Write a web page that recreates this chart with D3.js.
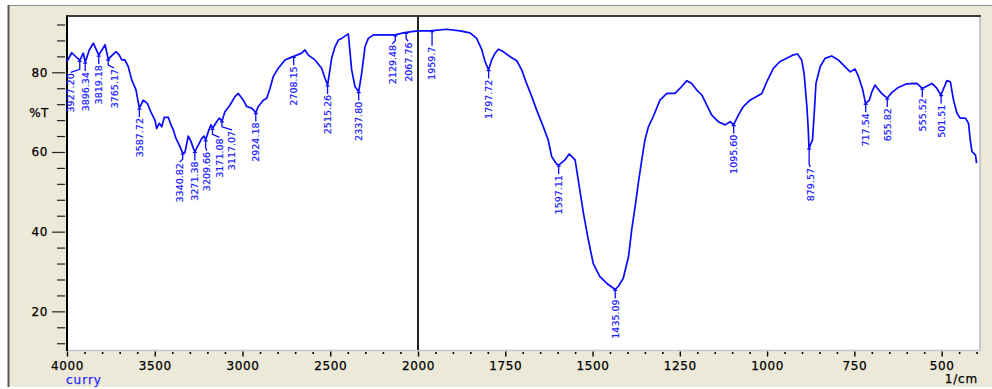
<!DOCTYPE html>
<html>
<head>
<meta charset="utf-8">
<script src="https://cdn.jsdelivr.net/npm/d3@7"></script>
<style>
  html, body { margin: 0; padding: 0; background: #fff; }
  svg { display: block; }
</style>
</head>
<body>
<svg width="992" height="389"></svg>
<script>
(function(){
  'use strict';

  var WIDTH = 992;
  var HEIGHT = 389;

  // spectrum (1/cm, %T)
  var wavenumbers = [
    4000, 3973, 3949, 3927, 3907, 3896, 3873, 3850, 3819, 3783, 3765, 3721, 3702, 3688, 3670,
    3651, 3631, 3607, 3588, 3565, 3542, 3523, 3499, 3489, 3474, 3460, 3446, 3423, 3409, 3394,
    3379, 3360, 3341, 3328, 3309, 3293, 3280, 3271, 3252, 3232, 3219, 3210, 3195, 3180, 3171,
    3147, 3132, 3117, 3100, 3071, 3043, 3024, 2995, 2976, 2948, 2924, 2910, 2881, 2862, 2843,
    2825, 2796, 2758, 2720, 2708, 2691, 2663, 2644, 2625, 2587, 2549, 2530, 2515, 2492, 2473,
    2454, 2435, 2406, 2397, 2378, 2359, 2338, 2321, 2302, 2283, 2254, 2207, 2129, 2084, 2036,
    2000, 1966, 1918, 1880, 1851, 1832, 1817, 1808, 1798, 1789, 1779, 1770, 1756, 1736, 1717,
    1703, 1689, 1674, 1660, 1641, 1627, 1617, 1603, 1597, 1579, 1567, 1550, 1541, 1526, 1512,
    1498, 1479, 1459, 1435, 1426, 1412, 1397, 1388, 1378, 1369, 1359, 1350, 1340, 1326, 1307,
    1287, 1264, 1249, 1230, 1216, 1202, 1187, 1173, 1159, 1140, 1120, 1106, 1096, 1082, 1068,
    1049, 1030, 1015, 1001, 982, 963, 944, 927, 913, 901, 894, 886, 882, 880, 870,
    865, 860, 848, 834, 815, 796, 777, 762, 748, 738, 726, 718, 707, 700, 691,
    684, 672, 656, 643, 624, 600, 571, 556, 547, 528, 514, 502, 485, 475, 466,
    456, 447, 432, 423, 418, 413, 403, 400
  ];
  var transmittance = [
    82.7, 84.9, 83.9, 83.0, 84.8, 82.5, 85.6, 87.3, 84.3, 86.9, 83.3, 85.2, 84.3, 83.1, 83.1,
    81.4, 78.1, 75.6, 71.0, 73.0, 72.2, 70.1, 68.0, 65.9, 67.2, 66.3, 68.7, 68.7, 67.0, 65.5,
    63.4, 61.7, 59.7, 59.9, 64.0, 62.6, 60.9, 60.1, 61.7, 63.4, 64.0, 63.0, 65.1, 66.8, 65.9,
    67.6, 68.5, 67.8, 70.1, 71.8, 73.9, 74.7, 73.0, 71.4, 71.0, 69.9, 71.4, 73.0, 73.5, 76.0,
    78.9, 81.0, 83.1, 83.8, 84.0, 84.3, 84.8, 85.6, 84.3, 83.1, 81.0, 78.5, 76.8, 83.5, 86.4,
    88.1, 88.5, 89.4, 89.6, 80.6, 76.4, 75.1, 79.7, 86.4, 88.5, 89.4, 89.4, 89.4, 89.9, 90.2,
    90.4, 90.4, 90.8, 90.4, 89.9, 88.5, 85.6, 82.7, 80.6, 83.1, 84.8, 85.8, 85.2, 83.9, 82.9,
    80.6, 77.2, 73.9, 70.5, 66.3, 63.0, 58.8, 57.0, 56.7, 58.0, 59.5, 58.0, 53.0, 44.6, 37.9,
    32.0, 28.7, 27.0, 25.5, 26.3, 28.3, 33.7, 40.4, 46.3, 52.1, 58.0, 63.0, 66.3, 68.9, 73.0,
    74.7, 74.7, 76.0, 77.9, 77.2, 75.6, 74.3, 71.8, 69.3, 67.6, 66.8, 67.6, 66.8, 69.3, 71.4,
    73.0, 73.9, 74.7, 77.6, 81.0, 82.7, 83.5, 84.3, 84.6, 83.1, 79.7, 71.4, 65.5, 60.9, 63.0,
    69.7, 77.2, 81.4, 83.5, 84.1, 83.1, 81.4, 80.1, 80.8, 78.9, 75.6, 72.2, 73.0, 75.1, 76.8,
    76.0, 74.7, 73.5, 74.9, 76.2, 77.1, 77.2, 76.0, 76.3, 77.2, 76.0, 74.3, 77.9, 77.6, 73.0,
    69.7, 68.5, 68.5, 67.2, 63.0, 60.1, 59.2, 57.2
  ];

  // peak picks
  var peakPositions = [
    3927.20, 3896.34, 3819.18, 3765.17, 3587.72, 3340.82, 3271.38, 3209.66, 3171.08, 3117.07,
    2924.18, 2708.15, 2515.26, 2337.80, 2129.48, 2067.76, 1959.7, 1797.72, 1597.11, 1435.09,
    1095.60, 879.57, 717.54, 655.82, 555.52, 501.51
  ];
  var peakLabels = [
    '3927.20', '3896.34', '3819.18', '3765.17', '3587.72', '3340.82', '3271.38', '3209.66', '3171.08', '3117.07',
    '2924.18', '2708.15', '2515.26', '2337.80', '2129.48', '2067.76', '1959.7', '1797.72', '1597.11', '1435.09',
    '1095.60', '879.57', '717.54', '655.82', '555.52', '501.51'
  ];

  var xTicks = [4000, 3500, 3000, 2500, 2000, 1750, 1500, 1250, 1000, 750, 500];
  var yTicks = [20, 40, 60, 80];

  var plot = { left: 67, right: 979, top: 16.5, bottom: 350 };

  var svg = d3.select('svg');

  // split axis: 2x expansion below 2000
  var xScale = d3.scaleLinear()
    .domain([4000, 2000, 393])
    .range([plot.left, 418, plot.right]);

  var yScale = d3.scaleLinear()
    .domain([10.3, 94])
    .range([plot.bottom, plot.top]);

  // window frame
  svg.append('rect').attr('x', 0).attr('y', 0).attr('width', WIDTH).attr('height', HEIGHT).attr('fill', '#fff');
  svg.append('rect').attr('x', 8).attr('y', 5).attr('width', WIDTH - 8).attr('height', 382).attr('fill', '#ece9d8');
  svg.append('line').attr('x1', 8).attr('x2', WIDTH).attr('y1', 5.5).attr('y2', 5.5).attr('stroke', '#8a8a8a');
  svg.append('line').attr('x1', 8.5).attr('x2', 8.5).attr('y1', 5).attr('y2', 387).attr('stroke', '#555').attr('stroke-width', 2);
  svg.append('line').attr('x1', 8).attr('x2', WIDTH).attr('y1', 387.5).attr('y2', 387.5).attr('stroke', '#fff');

  // plot area
  svg.append('rect')
    .attr('x', plot.left).attr('y', plot.top)
    .attr('width', plot.right - plot.left).attr('height', plot.bottom - plot.top)
    .attr('fill', '#fff');
  svg.append('line').attr('x1', plot.right + 1).attr('x2', plot.right + 1)
    .attr('y1', plot.top).attr('y2', plot.bottom + 1).attr('stroke', '#c8c8c8').attr('stroke-width', 2);
  svg.append('line').attr('x1', plot.left).attr('x2', plot.right + 2)
    .attr('y1', plot.bottom + 0.5).attr('y2', plot.bottom + 0.5).attr('stroke', '#c8c8c8').attr('stroke-width', 1.5);
  svg.append('line').attr('x1', plot.left - 1).attr('x2', plot.right + 2)
    .attr('y1', plot.top - 0.5).attr('y2', plot.top - 0.5).attr('stroke', '#3c3c3c').attr('stroke-width', 2);
  svg.append('line').attr('x1', plot.left).attr('x2', plot.left)
    .attr('y1', plot.top - 1).attr('y2', plot.bottom + 1).attr('stroke', '#000').attr('stroke-width', 2);

  // split marker at 2000
  svg.append('line')
    .attr('x1', xScale(2000)).attr('x2', xScale(2000))
    .attr('y1', plot.top).attr('y2', plot.bottom)
    .attr('stroke', '#222').attr('stroke-width', 2);

  // x axis
  var xMinor = d3.range(3900, 2000, -100).concat(d3.range(1950, 399, -50))
    .filter(function(v) { return xTicks.indexOf(v) < 0; });

  svg.append('g')
    .attr('class', 'axis')
    .attr('transform', 'translate(0,' + (plot.bottom + 2) + ')')
    .call(d3.axisBottom(xScale).tickValues(xMinor).tickSize(2).tickFormat(''))
    .call(function(g) { g.select('.domain').remove(); })
    .selectAll('line').attr('stroke', '#000').attr('stroke-width', 1.6);

  var xAxis = svg.append('g')
    .attr('class', 'axis')
    .attr('transform', 'translate(0,' + (plot.bottom + 1.5) + ')')
    .call(d3.axisBottom(xScale).tickValues(xTicks).tickSize(5).tickFormat(d3.format('d')));
  xAxis.select('.domain').remove();
  xAxis.selectAll('line').attr('stroke', '#000').attr('stroke-width', 1.4);
  xAxis.selectAll('text')
    .attr('y', 18.5).attr('dy', 0)
    .attr('fill', '#000')
    .attr('stroke', '#000').attr('stroke-width', 0.25)
    .style('font-family', 'DejaVu Sans, sans-serif')
    .style('font-size', '12px')
    .style('letter-spacing', '0.6px');

  // y axis
  var yMinor = d3.range(12, 94, 4).filter(function(v) { return yTicks.indexOf(v) < 0; });

  svg.append('g')
    .attr('transform', 'translate(' + (plot.left - 2) + ',0)')
    .call(d3.axisLeft(yScale).tickValues(yMinor).tickSize(8).tickFormat(''))
    .call(function(g) { g.select('.domain').remove(); })
    .selectAll('line').attr('stroke', '#222').attr('stroke-width', 1.2);

  var yAxis = svg.append('g')
    .attr('transform', 'translate(' + (plot.left - 2) + ',0)')
    .call(d3.axisLeft(yScale).tickValues(yTicks).tickSize(13).tickPadding(4));
  yAxis.select('.domain').remove();
  yAxis.selectAll('line').attr('stroke', '#222').attr('stroke-width', 1.2);
  yAxis.selectAll('text')
    .attr('fill', '#000')
    .attr('stroke', '#000').attr('stroke-width', 0.25)
    .style('font-family', 'DejaVu Sans, sans-serif')
    .style('font-size', '12px')
    .style('letter-spacing', '0.6px');

  svg.append('text')
    .attr('x', 39).attr('y', 113).attr('dy', '0.35em')
    .attr('text-anchor', 'middle')
    .attr('fill', '#000')
    .attr('stroke', '#000').attr('stroke-width', 0.25)
    .style('font-family', 'DejaVu Sans, sans-serif')
    .style('font-size', '12px')
    .style('letter-spacing', '0.5px')
    .text('%T');

  svg.append('text')
    .attr('x', 66).attr('y', 384)
    .attr('fill', '#2626ff')
    .attr('stroke', '#2626ff').attr('stroke-width', 0.25)
    .style('font-family', 'DejaVu Sans, sans-serif')
    .style('font-size', '12px')
    .style('letter-spacing', '1px')
    .text('curry');

  svg.append('text')
    .attr('x', 978).attr('y', 382.5)
    .attr('text-anchor', 'end')
    .attr('fill', '#000')
    .attr('stroke', '#000').attr('stroke-width', 0.25)
    .style('font-family', 'DejaVu Sans, sans-serif')
    .style('font-size', '12px')
    .style('letter-spacing', '0.8px')
    .text('1/cm');

  // spectrum
  var spectrum = wavenumbers.map(function(w, i) { return { wn: w, t: transmittance[i] }; });

  var line = d3.line()
    .x(function(d) { return xScale(d.wn); })
    .y(function(d) { return yScale(d.t); });

  svg.append('path')
    .datum(spectrum)
    .attr('d', line)
    .attr('fill', 'none')
    .attr('stroke', '#0a0aff')
    .attr('stroke-width', 1.7)
    .attr('stroke-linejoin', 'round');

  // %T at a wavenumber, linear between read points
  function valueAt(w) {
    for (var i = 1; i < spectrum.length; i++) {
      var a = spectrum[i - 1], b = spectrum[i];
      if (w <= a.wn && w >= b.wn) {
        var f = (a.wn - w) / (a.wn - b.wn);
        return a.t + f * (b.t - a.t);
      }
    }
    return spectrum[spectrum.length - 1].t;
  }

  // a few labels were pushed sideways / further down to clear neighbours
  var labelNudge = {
    '3927.20': [-9, 3], '3765.17': [6, 0], '3171.08': [7, 0], '3117.07': [10, 0],
    '3340.82': [-3, 0], '2129.48': [-3, 0], '2067.76': [2, 0], '1959.7': [0, 6],
    '879.57': [1, 10], '3209.66': [1, 2]
  };

  var peaks = peakPositions.map(function(w, i) {
    var n = labelNudge[peakLabels[i]] || [0, 0];
    var cy = yScale(valueAt(w));
    return { x: xScale(w), cy: cy, tx: xScale(w) + n[0], ty: cy + 10 + n[1], label: peakLabels[i] };
  });

  var pk = svg.append('g').attr('class', 'peaks');

  pk.selectAll('path.lead')
    .data(peaks)
    .enter()
    .append('path')
    .attr('class', 'lead')
    .attr('d', function(d) {
      return 'M' + d.x + ',' + (d.cy + 1) + 'L' + d.x + ',' + (d.ty - 4) + 'L' + d.tx + ',' + (d.ty - 1) +
        'M' + (d.x - 2) + ',' + (d.cy + 1) + 'H' + (d.x + 2);
    })
    .attr('fill', 'none')
    .attr('stroke', '#0a0aff')
    .attr('stroke-width', 1.3);

  pk.selectAll('text')
    .data(peaks)
    .enter()
    .append('text')
    .attr('transform', function(d) { return 'translate(' + d.tx + ',' + d.ty + ') rotate(-90)'; })
    .attr('text-anchor', 'end')
    .attr('dy', '0.36em')
    .attr('fill', '#1a1aff')
    .attr('stroke', '#1a1aff').attr('stroke-width', 0.2)
    .style('font-family', 'DejaVu Sans, sans-serif')
    .style('font-size', '9.5px')
    .text(function(d) { return d.label; });
})();
</script>
</body>
</html>
